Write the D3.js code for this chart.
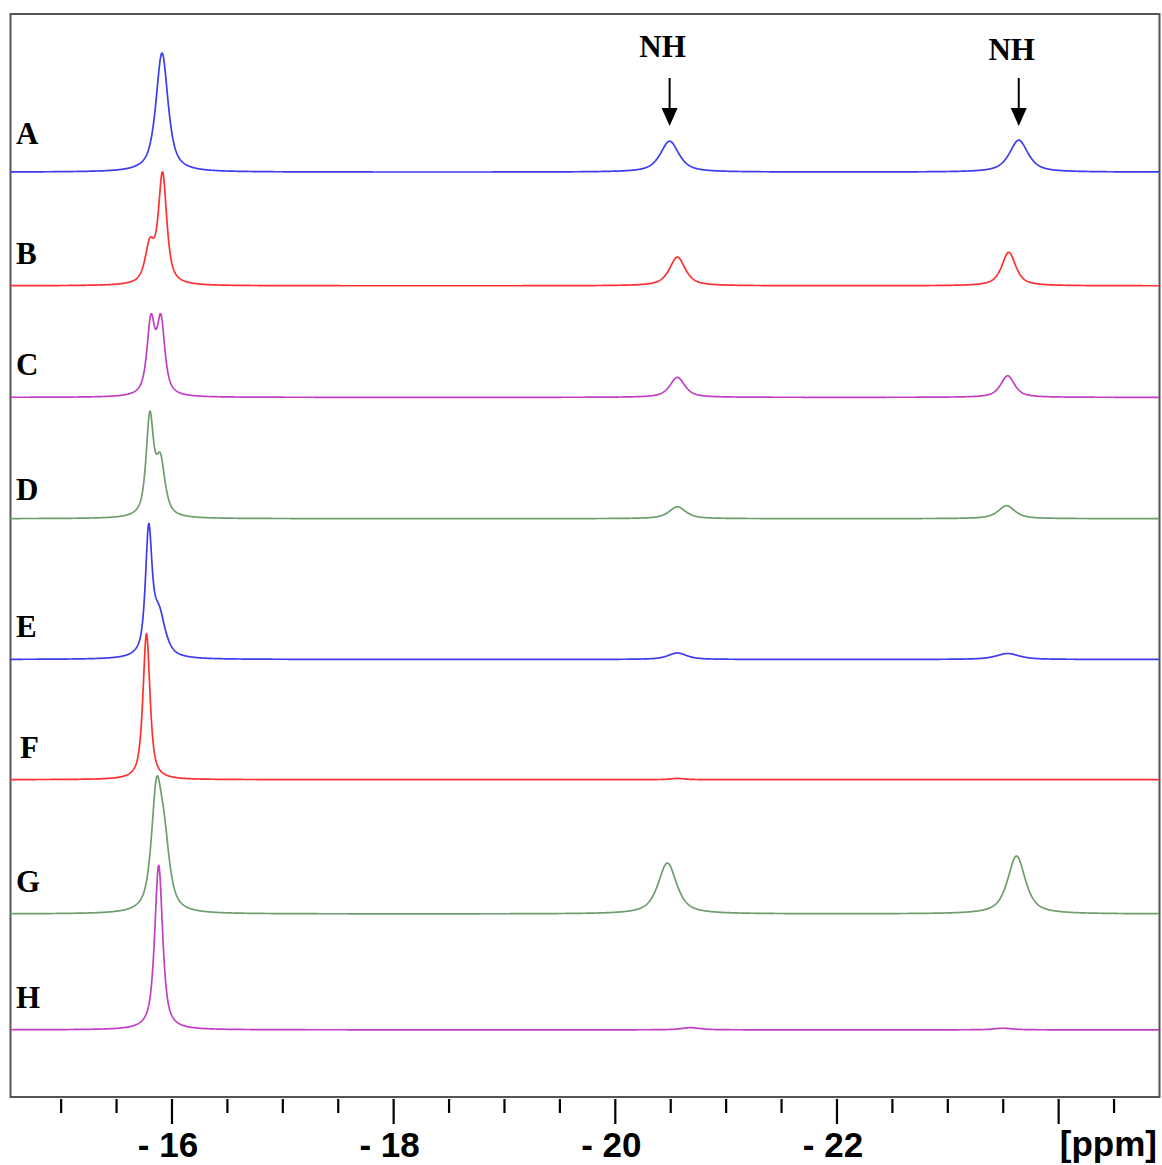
<!DOCTYPE html>
<html>
<head>
<meta charset="utf-8">
<script src="https://cdn.jsdelivr.net/npm/d3@7"></script>
<style>
  html, body { margin: 0; padding: 0; background: #fff; }
  svg { display: block; }
</style>
</head>
<body>
<svg id="chart"></svg>
<script>
// trace labels, top to bottom
var traceNames = ['A', 'B', 'C', 'D', 'E', 'F', 'G', 'H']
var traceColors = ['#3c3cf0', '#ff3030', '#c23ec2', '#6e9e6e', '#3c3cf0', '#ff3030', '#6e9e6e', '#c23ec2']
// baseline offset of each trace (intensity units)
var traceOffsets = [85.4, 74.9, 64.6, 53.4, 40.4, 29.3, 16.9, 6.2]
// peaks of each trace: [shift ppm, height, width ppm]
var peaksA = [[-15.91, 11.0, 0.13], [-20.49, 2.85, 0.2], [-23.64, 2.95, 0.2]]
var peaksB = [[-15.915, 10.1, 0.09], [-15.80, 3.4, 0.10], [-20.56, 2.65, 0.17], [-23.55, 3.1, 0.15]]
var peaksC = [[-15.81, 6.7, 0.085], [-15.90, 6.7, 0.085], [-20.56, 1.85, 0.16], [-23.54, 2.0, 0.15]]
var peaksD = [[-15.80, 9.0, 0.08], [-15.895, 5.0, 0.10], [-20.56, 1.1, 0.18], [-23.53, 1.2, 0.18]]
var peaksE = [[-15.79, 11.1, 0.07], [-15.88, 4.0, 0.14], [-20.56, 0.6, 0.2], [-23.54, 0.55, 0.25]]
var peaksF = [[-15.77, 13.5, 0.075], [-20.56, 0.12, 0.15]]
var peaksG = [[-15.86, 10.3, 0.11], [-15.93, 5.5, 0.12], [-20.47, 4.7, 0.2], [-23.62, 5.35, 0.19]]
var peaksH = [[-15.88, 15.2, 0.085], [-20.68, 0.2, 0.2], [-23.5, 0.15, 0.2]]
var tracePeaks = [peaksA, peaksB, peaksC, peaksD, peaksE, peaksF, peaksG, peaksH]
// NH annotations
var nhShifts = [-20.49, -23.64]
// axis
var majorTicks = [-16, -18, -20, -22, -24]
var tickLabels = ['- 16', '- 18', '- 20', '- 22', '']
var minorStep = 0.5

var W = 1162, H = 1165
var mLeft = 10.5, mRight = 1159.5, mTop = 14, mBottom = 1097

var svg = d3.select('#chart').attr('width', W).attr('height', H)

var x = d3.scaleLinear().domain([-14.543, -24.91]).range([mLeft, mRight])
var y = d3.scaleLinear().domain([0, 100]).range([mBottom, mTop])

// frame
svg.append('rect')
  .attr('x', mLeft).attr('y', mTop)
  .attr('width', mRight - mLeft).attr('height', mBottom - mTop)
  .attr('fill', '#fff')
  .attr('stroke', '#555').attr('stroke-width', 2)

// spectra: sum of lorentzian lines evaluated on the plotted range
function spectrum(peaks, off) {
  var pts = []
  var d = x.domain()
  for (var p = d[0]; p >= d[1]; p -= 0.004) {
    var v = 0
    peaks.forEach(function(k) {
      var t = (p - k[0]) / (k[2] / 2)
      // mostly lorentzian with a bit of gaussian
      v += k[1] * (0.75 / (1 + t * t) + 0.25 * Math.exp(-Math.LN2 * t * t))
    })
    pts.push([p, off + v])
  }
  return pts
}

var line = d3.line().x(function(d) { return x(d[0]) }).y(function(d) { return y(d[1]) })

var g = svg.append('g')
tracePeaks.forEach(function(pk, i) {
  g.append('path')
    .attr('d', line(spectrum(pk, traceOffsets[i])))
    .attr('fill', 'none')
    .attr('stroke', traceColors[i])
    .attr('stroke-width', 1.7)
    .attr('stroke-linejoin', 'round')
})

// trace letters (A sits a little higher above its baseline)
g.selectAll('text.lab')
  .data(traceNames)
  .enter()
  .append('text')
  .attr('class', 'lab')
  .attr('x', function(d) { return d == 'F' ? 20 : 16 })
  .attr('y', function(d, i) {
    var dy = d == 'A' ? 28 : d == 'D' ? 19 : 22
    return y(traceOffsets[i]) - dy
  })
  .attr('font-family', 'Liberation Serif, Times New Roman, serif')
  .attr('font-weight', 'bold')
  .attr('font-size', 31)
  .text(function(d) { return d })

// NH arrows
var nh = svg.append('g')
nhShifts.forEach(function(s, i) {
  var cx = x(s)
  var ty = i == 0 ? 57 : 60
  nh.append('text')
    .attr('x', cx - 7).attr('y', ty)
    .attr('text-anchor', 'middle')
    .attr('font-family', 'Liberation Serif, Times New Roman, serif')
    .attr('font-weight', 'bold')
    .attr('font-size', 31)
    .text('NH')
  nh.append('line')
    .attr('x1', cx).attr('x2', cx)
    .attr('y1', 78).attr('y2', 110)
    .attr('stroke', '#000').attr('stroke-width', 2)
  nh.append('path')
    .attr('d', 'M' + (cx - 8) + ',108L' + (cx + 8) + ',108L' + cx + ',126Z')
    .attr('fill', '#000')
})

// x axis ticks
var minor = d3.range(-14.5, -24.91, -minorStep).filter(function(t) { return t < -14.6 })
var ax = svg.append('g')
ax.selectAll('line.mn')
  .data(minor)
  .enter()
  .append('line')
  .attr('x1', function(d) { return x(d) }).attr('x2', function(d) { return x(d) })
  .attr('y1', mBottom + 2)
  .attr('y2', function(d) { return majorTicks.indexOf(d) >= 0 ? mBottom + 27 : mBottom + 16 })
  .attr('stroke', '#000').attr('stroke-width', 2.2)

ax.selectAll('text.tl')
  .data(majorTicks)
  .enter()
  .append('text')
  .attr('class', 'tl')
  .attr('x', function(d) { return x(d) - 4 })
  .attr('y', 1157)
  .attr('text-anchor', 'middle')
  .attr('font-family', 'Liberation Sans, Arial, sans-serif')
  .attr('font-weight', 'bold')
  .attr('font-size', 35)
  .text(function(d, i) { return tickLabels[i] })

ax.append('text')
  .attr('x', 1157).attr('y', 1156)
  .attr('text-anchor', 'end')
  .attr('font-family', 'Liberation Sans, Arial, sans-serif')
  .attr('font-weight', 'bold')
  .attr('font-size', 35)
  .text('[ppm]')
</script>
</body>
</html>
